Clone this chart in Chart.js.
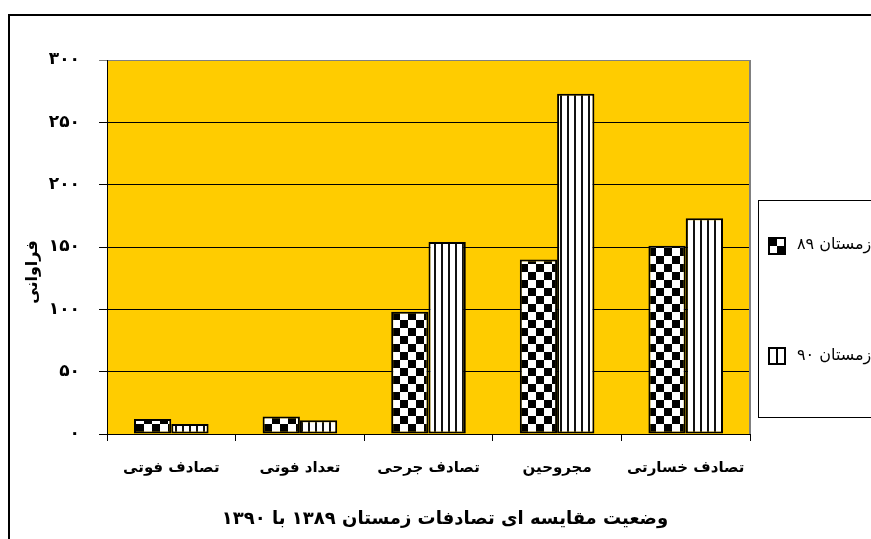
<!DOCTYPE html>
<html>
<head>
<meta charset="utf-8">
<script src="https://cdn.jsdelivr.net/npm/chart.js@4"></script>
<style>
  html, body { margin: 0; padding: 0; background: #fff; overflow: hidden; }
  #wrap { position: absolute; left: 0; top: 0; width: 960px; height: 539px; }
</style>
</head>
<body>
<div id="wrap"><canvas id="chart"></canvas></div>
<script>
const categories = ["تصادف فوتی", "تعداد فوتی", "تصادف جرحی", "مجروحین", "تصادف خسارتی"];
const winter89 = [12, 14, 98, 140, 151];
const winter90 = [8, 11, 154, 273, 173];
const seriesNames = ["زمستان ۸۹", "زمستان ۹۰"];
const yTickLabels = ["۰", "۵۰", "۱۰۰", "۱۵۰", "۲۰۰", "۲۵۰", "۳۰۰"];
const yTitle = "فراوانی";
const chartTitle = "وضعیت مقایسه ای تصادفات زمستان ۱۳۸۹ با ۱۳۹۰";

const FONT = "'DejaVu Sans', sans-serif";

// Checkerboard pattern for the first series
function checkerPattern() {
  const c = document.createElement("canvas");
  c.width = 16; c.height = 16;
  const g = c.getContext("2d");
  g.fillStyle = "#fff";
  g.fillRect(0, 0, 16, 16);
  g.fillStyle = "#000";
  g.fillRect(0, 0, 8, 8);
  g.fillRect(8, 8, 8, 8);
  return g.createPattern(c, "repeat");
}

// Vertical stripe pattern for the second series
function stripePattern() {
  const c = document.createElement("canvas");
  c.width = 7; c.height = 4;
  const g = c.getContext("2d");
  g.fillStyle = "#fff";
  g.fillRect(0, 0, 7, 4);
  g.fillStyle = "#111";
  g.fillRect(0, 0, 2, 4);
  return g.createPattern(c, "repeat");
}

// Plot background, outer frame, titles and legend
const decor = {
  id: "decor",
  beforeDraw(chart) {
    const { ctx, chartArea: a } = chart;
    ctx.save();
    ctx.fillStyle = "#fff";
    ctx.fillRect(0, 0, chart.width, chart.height);
    ctx.strokeStyle = "#000";
    ctx.lineWidth = 2;
    ctx.strokeRect(9, 15, 1100, 700);
    ctx.fillStyle = "#FFCC00";
    ctx.fillRect(a.left, a.top, a.right - a.left, a.bottom - a.top);
    ctx.restore();
  },
  afterDraw(chart) {
    const { ctx, chartArea: a } = chart;
    ctx.save();
    // right edge of plot area
    ctx.strokeStyle = "#808080";
    ctx.lineWidth = 2;
    ctx.beginPath();
    ctx.moveTo(a.right, a.top);
    ctx.lineTo(a.right, a.bottom);
    ctx.stroke();

    // chart title under the axis labels
    ctx.fillStyle = "#000";
    ctx.font = "bold 18px " + FONT;
    ctx.textAlign = "center";
    ctx.textBaseline = "middle";
    ctx.fillText(chartTitle, 445, 519);

    // y axis title
    ctx.translate(33, 272);
    ctx.rotate(-Math.PI / 2);
    ctx.font = "bold 16px " + FONT;
    ctx.fillText(yTitle, 0, 0);
    ctx.restore();

    // legend box
    ctx.save();
    ctx.fillStyle = "#fff";
    ctx.fillRect(758, 200, 300, 217);
    ctx.strokeStyle = "#000";
    ctx.lineWidth = 1;
    ctx.strokeRect(758.5, 200.5, 300, 217);

    // swatch 1: large checker
    ctx.fillStyle = "#000";
    ctx.fillRect(768, 237, 18, 18);
    ctx.fillStyle = "#fff";
    ctx.fillRect(777, 239, 7, 7);
    ctx.fillRect(770, 246, 7, 7);
    // swatch 2: stripes
    ctx.fillStyle = "#fff";
    ctx.fillRect(768, 347, 18, 18);
    ctx.strokeStyle = "#000";
    ctx.lineWidth = 2;
    ctx.strokeRect(769, 348, 16, 16);
    ctx.beginPath();
    ctx.moveTo(777, 348);
    ctx.lineTo(777, 364);
    ctx.stroke();

    ctx.fillStyle = "#000";
    ctx.font = "16px " + FONT;
    ctx.textAlign = "left";
    ctx.textBaseline = "middle";
    ctx.fillText(seriesNames[0], 797, 245);
    ctx.fillText(seriesNames[1], 797, 356);
    ctx.restore();
  }
};

const ctx = document.getElementById("chart").getContext("2d");
new Chart(ctx, {
  type: "bar",
  data: {
    labels: categories,
    datasets: [
      {
        label: seriesNames[0],
        data: winter89,
        backgroundColor: checkerPattern(),
        borderColor: "#000",
        borderWidth: 2,
        borderSkipped: false
      },
      {
        label: seriesNames[1],
        data: winter90,
        backgroundColor: stripePattern(),
        borderColor: "#000",
        borderWidth: 2,
        borderSkipped: false
      }
    ]
  },
  options: {
    responsive: true,
    maintainAspectRatio: false,
    animation: false,
    devicePixelRatio: 1,
    datasets: {
      bar: { categoryPercentage: 0.58, barPercentage: 1 }
    },
    layout: { padding: { top: 60, right: 210, left: 0, bottom: 0 } },
    plugins: {
      legend: { display: false },
      tooltip: { enabled: false },
      title: { display: false }
    },
    scales: {
      x: {
        afterFit: s => { s.height = 105; },
        grid: { drawOnChartArea: false, tickLength: 7, color: "#000" },
        border: { color: "#000", width: 1 },
        ticks: {
          color: "#000",
          padding: 18,
          maxRotation: 0,
          font: { family: FONT, size: 15, weight: "bold" }
        }
      },
      y: {
        min: 0,
        max: 300,
        afterFit: s => { s.width = 107; },
        grid: {
          tickLength: 8,
          color: c => (c.tick && c.tick.value === 300 ? "#808080" : "#000"),
          lineWidth: 1
        },
        border: { color: "#000", width: 1 },
        ticks: {
          stepSize: 50,
          color: "#000",
          padding: 19,
          font: { family: FONT, size: 17, weight: "bold" },
          callback: (v, i) => yTickLabels[i]
        }
      }
    }
  },
  plugins: [decor]
});
</script>
</body>
</html>
